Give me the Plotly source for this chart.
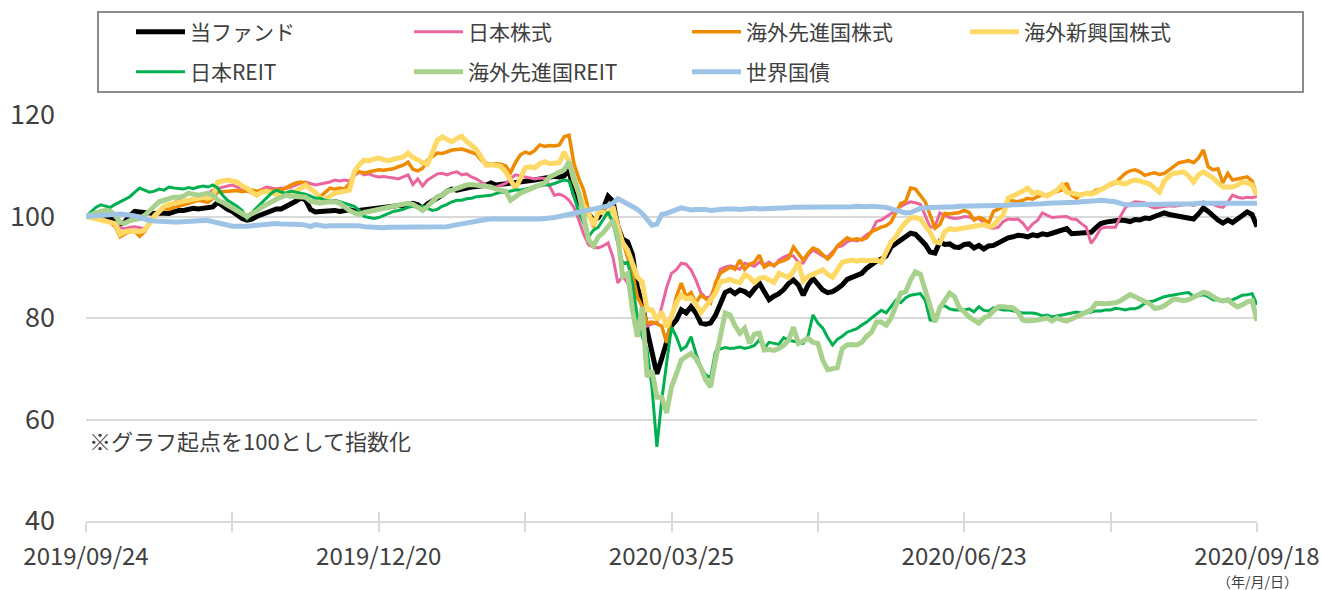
import pandas as pd
import plotly.graph_objects as go

# ---------------- data ----------------
jp_holidays = ["2019-10-14", "2019-10-22", "2019-11-04", "2019-12-31", "2020-01-01",
               "2020-01-02", "2020-01-03", "2020-01-13", "2020-02-11", "2020-02-24",
               "2020-03-20", "2020-04-29", "2020-05-04", "2020-05-05", "2020-05-06",
               "2020-07-23", "2020-07-24", "2020-08-10"]
dates = [d.strftime("%Y/%m/%d") for d in
         pd.bdate_range("2019-09-24", "2020-09-18", freq="C", holidays=jp_holidays)]

series_names = ["当ファンド", "日本株式", "海外先進国株式", "海外新興国株式",
                "日本REIT", "海外先進国REIT", "世界国債"]

fund = [
    100.0, 100.1, 99.9, 100.0, 99.8, 99.5, 99.2, 98.5, 99.0, 100.2,
    101.0, 100.9, 100.8, 100.5, 100.6, 100.7, 100.6, 100.6, 100.9, 101.2,
    101.2, 101.4, 101.6, 101.5, 101.7, 101.8, 101.9, 102.8, 102.0, 101.4,
    101.0, 100.2, 99.6, 99.3, 99.5, 100.0, 100.4, 100.9, 101.2, 101.5,
    101.5, 102.0, 102.3, 103.0, 103.6, 103.3, 101.4, 100.9, 101.0, 101.1,
    101.0, 101.2, 101.0, 101.2, 101.3, 101.1, 101.2, 101.4, 101.5, 101.4,
    101.6, 101.7, 101.9, 102.0, 102.2, 102.0, 102.4, 102.6, 102.3, 101.6,
    102.5, 103.0, 103.6, 104.2, 105.0, 105.4, 105.2, 105.5, 105.6, 105.8,
    105.8, 106.0, 106.2, 106.6, 106.2, 106.3, 106.4, 106.5, 106.6, 106.8,
    106.8, 107.0, 107.2, 107.4, 107.6, 107.8, 107.9, 107.8, 108.0, 109.2,
    104.5, 102.6, 102.4, 100.5, 99.3, 99.8, 101.5, 104.0, 103.0, 98.0,
    95.5, 95.0, 92.5, 86.0, 83.0, 77.6, 73.5, 69.0, 72.0, 75.5,
    78.5, 79.6, 81.6, 81.0, 82.2, 81.0, 79.0, 78.8, 79.0, 80.5,
    83.0, 85.0, 85.5, 84.8, 85.5, 85.2, 84.5, 85.8, 86.9, 85.2,
    83.6, 84.3, 84.8, 85.6, 86.8, 87.5, 86.5, 84.5, 86.5, 87.8,
    86.8, 85.5, 85.0, 85.2, 85.8, 86.5, 87.6, 88.0, 88.5, 88.8,
    89.8, 90.6, 91.2, 91.6, 92.2, 94.0, 94.7, 95.2, 96.2, 96.7,
    96.5, 95.5, 94.5, 93.0, 92.8, 95.0, 94.5, 94.6, 94.0, 93.9,
    94.5, 94.6, 93.8, 94.3, 93.6, 94.2, 94.3, 94.8, 95.3, 95.8,
    96.0, 96.3, 96.2, 96.0, 96.4, 96.2, 96.6, 96.4, 96.7, 97.0,
    97.1, 97.6, 96.6, 96.7, 96.7, 96.8, 96.9, 97.8, 98.6, 98.9,
    99.0, 99.3, 99.3, 99.2, 99.0, 99.4, 99.3, 99.7, 99.6, 100.0,
    100.4, 100.7, 100.4, 100.2, 100.0, 99.8, 99.7, 99.5, 100.5, 101.7,
    101.0, 100.0, 99.3, 98.7, 99.3, 98.8, 99.5, 100.3, 100.9, 100.4,
    98.0]

jp_equity = [
    100.0, 99.8, 99.6, 99.5, 99.2, 99.0, 98.6, 97.8, 97.6, 97.9,
    98.0, 97.8, 97.6, 98.8, 100.4, 101.0, 101.8, 102.3, 102.8, 103.2,
    103.0, 103.2, 103.3, 103.5, 104.0, 104.6, 105.2, 105.5, 105.8, 106.0,
    106.2, 105.8, 105.4, 105.0, 104.6, 104.9, 105.4, 105.8, 105.6, 105.4,
    105.6, 105.5, 105.8, 106.2, 106.6, 106.8, 106.5, 106.2, 106.4, 106.6,
    106.8, 107.2, 107.0, 107.2, 107.0, 108.0, 108.8, 108.2, 108.4, 108.0,
    107.8, 107.9, 107.8, 107.6, 107.4, 107.8, 108.2, 106.3, 107.4, 106.0,
    107.2, 107.8, 108.4, 108.5, 108.2, 108.6, 108.8, 108.2, 108.4, 107.8,
    107.4, 106.8, 106.2, 105.6, 105.8, 106.2, 106.5, 107.4, 108.2, 108.0,
    107.8, 107.6, 107.4, 107.6, 107.5, 106.0, 104.2, 104.4, 104.0, 103.2,
    101.8, 99.3, 96.5, 94.4, 94.0, 93.8, 94.2, 94.8, 92.0, 86.9,
    88.2, 86.9, 84.0, 80.2, 78.2, 78.4, 78.8, 79.0, 82.2, 86.0,
    88.8, 89.5, 90.8, 90.6, 89.5, 87.5, 85.0, 84.0, 84.2, 86.5,
    89.6, 90.0, 90.3, 90.0, 89.6, 90.8, 90.5, 90.2, 91.0, 90.4,
    91.0, 90.2, 91.4, 92.0, 92.4, 92.2, 91.0, 90.8, 92.4, 93.4,
    92.8, 92.2, 92.0, 93.0, 94.0, 94.2, 95.0, 95.4, 95.2, 95.6,
    96.4, 97.0, 99.0, 99.3, 100.0, 100.6, 101.2, 102.0, 102.5, 102.9,
    102.7, 102.4, 100.2, 97.9, 98.0, 100.7, 100.2, 99.8, 99.6, 99.7,
    100.0, 99.9, 99.5, 99.6, 98.8, 97.8, 97.7, 97.9, 99.0, 99.5,
    99.4, 99.5, 98.7, 97.4, 98.5, 99.2, 100.7, 100.2, 99.8, 99.9,
    99.9, 100.0, 99.5, 99.4, 98.6, 97.9, 94.7, 96.0, 97.7, 97.9,
    97.9, 97.9, 100.0, 101.7, 102.5, 102.9, 102.8, 102.7, 102.0, 101.7,
    101.8, 102.0, 102.1, 102.0, 102.2, 102.3, 102.4, 102.2, 102.5, 102.9,
    102.6, 102.4, 102.0, 101.8, 102.8, 104.2, 103.8, 103.6, 103.8, 103.7,
    104.0]

dev_equity = [
    100.0, 99.8, 99.6, 99.7, 99.2, 98.8, 98.0, 96.0, 96.6, 97.0,
    97.1, 96.1, 97.0, 98.5, 100.4, 101.0, 101.6, 101.4, 101.8, 102.0,
    102.3, 102.6, 102.8, 103.2, 103.0, 102.8, 103.6, 104.8, 104.9, 105.0,
    105.0, 105.1, 104.9, 105.0, 105.2, 105.0, 105.1, 105.2, 105.0, 105.3,
    105.2, 105.8, 106.2, 106.6, 106.8, 106.6, 105.6, 104.6, 103.9, 104.8,
    105.6, 105.4, 105.6, 105.4, 106.5, 108.5, 108.8, 108.6, 108.8, 109.0,
    109.2, 109.1, 109.3, 109.4, 109.8, 110.1, 110.7, 109.3, 109.0, 109.5,
    111.1, 111.8, 112.5, 112.4, 112.8, 113.1, 113.2, 113.3, 113.0, 112.6,
    112.3, 111.1, 110.5, 110.3, 110.4, 110.3, 110.0, 108.6, 110.6, 112.1,
    112.7, 112.4, 113.0, 114.1, 113.8, 114.0, 113.9, 114.1, 115.7, 116.0,
    110.5, 107.5, 105.2, 101.3, 97.9, 100.4, 100.9, 102.3, 101.5, 97.4,
    95.0, 92.0, 88.8, 84.2, 82.2, 79.0, 79.2, 78.9, 78.4, 75.1,
    80.2, 84.2, 86.9, 84.2, 85.0, 83.0, 84.5, 83.8, 83.0, 86.9,
    88.8, 89.4, 90.0, 89.6, 91.4, 89.6, 90.6, 91.0, 92.4, 90.0,
    90.6, 90.4, 91.0, 91.3, 91.8, 94.0, 92.8, 91.4, 92.8, 93.8,
    93.4, 92.6, 91.6, 92.6, 94.2, 95.0, 95.8, 95.4, 95.6, 95.4,
    95.8, 97.0, 97.5, 97.9, 98.2, 98.9, 100.8, 102.6, 103.0, 105.6,
    105.4, 104.0, 102.9, 100.3, 97.7, 98.4, 100.6, 100.5, 100.6, 100.8,
    101.2, 100.8, 99.3, 99.8, 99.5, 98.7, 101.0, 101.4, 101.9, 103.2,
    103.0, 102.9, 103.2, 103.6, 103.4, 103.9, 104.2, 104.3, 104.6, 104.9,
    105.2, 106.6, 104.2, 103.6, 104.4, 104.6, 104.6, 105.2, 105.4, 105.8,
    106.2, 106.6, 107.6, 108.5, 109.0, 109.2, 108.8, 108.1, 108.4, 108.6,
    108.3, 108.5, 109.2, 109.8, 110.6, 110.8, 111.0, 110.6, 111.5, 113.1,
    109.8, 109.2, 109.4, 106.6, 108.5, 107.2, 107.4, 107.6, 107.8, 107.0,
    104.2]

em_equity = [
    100.0, 99.8, 99.5, 99.3, 99.2, 99.0, 98.6, 96.5, 97.0, 97.2,
    97.2, 97.0, 97.3, 98.8, 100.0, 101.0, 102.0, 102.4, 102.6, 102.8,
    103.0, 103.2, 103.4, 103.6, 103.8, 103.6, 103.9, 106.8, 107.0, 107.2,
    107.0, 106.8, 106.0, 105.6, 104.8, 104.2, 104.8, 105.0, 104.6, 104.4,
    104.2, 104.6, 104.8, 105.0, 105.6, 106.2, 105.4, 104.8, 103.6, 103.4,
    104.0, 104.6, 104.8, 105.0, 105.2, 108.8, 110.2, 111.1, 111.0, 111.3,
    111.5, 111.2, 111.0, 111.3, 111.5, 111.7, 112.5, 111.6, 111.2, 110.6,
    110.3, 113.0, 115.0, 115.7, 115.2, 114.7, 115.4, 115.8, 114.8, 114.0,
    113.2, 111.7, 110.1, 110.2, 110.0, 109.9, 108.8, 107.2, 105.6, 107.4,
    109.6, 109.8, 109.6, 110.4, 110.8, 110.4, 110.6, 110.6, 112.7, 110.8,
    107.2, 104.6, 102.2, 100.6, 98.2, 101.0, 100.8, 100.2, 102.0, 98.0,
    94.8, 93.4, 90.8, 88.1, 87.1, 81.6, 81.6, 79.6, 81.2, 78.2,
    80.4, 83.0, 84.5, 83.8, 84.0, 82.8, 81.0, 82.3, 83.5, 84.9,
    87.1, 87.4, 87.6, 87.2, 87.0, 88.5, 88.0, 87.0, 87.8, 88.0,
    87.4, 87.0, 88.8, 88.4, 88.0, 89.2, 91.0, 87.3, 88.2, 88.6,
    89.0, 89.5, 88.6, 88.0, 89.5, 91.0, 91.2, 91.4, 91.2, 91.4,
    91.3, 91.4, 91.4, 91.0, 92.8, 95.0, 96.0, 97.7, 98.8, 99.7,
    99.8, 99.5, 98.2, 96.9, 95.0, 94.8, 97.0, 97.6, 97.4, 97.6,
    97.8, 98.0, 98.2, 98.3, 98.4, 98.0, 98.2, 99.4, 100.3, 103.6,
    104.0, 104.6, 105.0, 105.6, 104.6, 104.8, 104.4, 104.0, 104.6, 105.2,
    106.2, 104.8, 104.6, 104.3, 104.2, 104.6, 104.4, 104.8, 105.2, 105.8,
    106.4, 106.8, 106.6, 106.4, 106.9, 107.2, 107.0, 106.6, 106.4, 105.6,
    104.8, 107.0, 108.0, 108.5, 108.6, 108.8, 108.0, 106.8, 108.2, 108.8,
    108.2, 107.6, 106.6, 105.8, 105.8, 105.8, 106.2, 106.8, 106.6, 106.2,
    104.2]

jp_reit = [
    100.0, 101.0, 101.8, 102.3, 102.0, 101.8, 102.4, 102.9, 103.4, 103.9,
    104.8, 105.6, 105.2, 104.8, 105.0, 105.4, 105.2, 105.8, 105.6, 105.5,
    105.4, 105.7, 105.5, 105.8, 106.0, 105.8, 106.2, 105.6, 104.2, 103.2,
    102.6, 102.0, 101.2, 99.6, 100.8, 101.8, 102.6, 103.6, 104.6, 105.2,
    104.8, 104.6, 105.0, 104.8, 104.6, 104.4, 104.0, 103.6, 103.6, 103.2,
    103.0, 103.2, 102.9, 102.6, 102.3, 102.0, 101.2, 100.0, 99.8, 99.6,
    99.8, 100.2, 100.6, 101.0, 101.2, 101.4, 101.8, 102.0, 101.8, 102.0,
    101.6, 101.2, 101.4, 102.0, 102.4, 102.9, 103.2, 103.2, 103.5, 103.6,
    103.9, 104.0, 104.0, 104.2, 104.5, 104.8, 104.8, 105.0, 105.2, 105.2,
    105.4, 105.6, 106.0, 106.0, 106.2, 106.2, 106.5, 106.8, 107.2, 107.0,
    103.9, 100.9, 98.7, 96.0, 97.3, 97.9, 99.4, 100.9, 98.7, 94.8,
    90.8, 91.0, 86.9, 80.2, 76.3, 73.7, 66.4, 54.6, 63.8, 71.1,
    78.2, 76.3, 73.7, 74.4, 76.3, 73.0, 70.3, 68.8, 68.2, 73.3,
    73.9, 74.2, 74.0, 74.1, 74.3, 74.0, 74.2, 74.6, 75.7, 74.0,
    75.2, 75.0, 74.8, 76.1, 75.6, 75.4, 75.2, 75.0, 76.5, 80.6,
    79.0, 78.0, 76.2, 74.7, 75.8, 76.4, 77.2, 77.6, 77.9, 78.6,
    79.2, 80.0, 80.8, 81.5, 81.0, 82.2, 83.5, 83.0, 84.0, 84.5,
    84.6, 84.8, 83.5, 79.6, 79.4, 82.2, 82.4, 81.8, 81.6, 81.6,
    81.6, 81.8, 81.2, 82.2, 81.5, 81.4, 82.0, 81.8, 81.6, 81.6,
    81.4, 81.2, 81.0, 81.0, 81.0, 80.8, 80.4, 80.6, 80.2, 80.4,
    80.6, 80.8, 81.0, 81.2, 81.0, 81.0, 81.2, 81.4, 81.4, 81.6,
    81.6, 81.9, 81.8, 81.6, 81.8, 81.8, 82.2, 82.9, 83.2, 83.4,
    83.8, 84.2, 84.4, 84.6, 84.8, 84.9, 85.0, 84.2, 84.4, 84.6,
    84.2, 83.6, 83.5, 83.2, 83.4, 83.6, 84.0, 84.5, 84.6, 84.8,
    82.6]

dev_reit = [
    100.0, 100.4, 100.8, 101.0, 101.2, 101.0, 100.2, 98.8, 98.7, 99.2,
    99.4, 99.6, 100.2, 101.2, 102.0, 102.9, 103.2, 103.6, 103.8, 103.8,
    104.0, 104.6, 104.4, 104.2, 104.4, 104.6, 104.2, 103.2, 102.8, 102.2,
    101.6, 101.2, 100.6, 100.0, 100.6, 101.0, 101.8, 102.4, 102.9, 103.4,
    103.8, 104.2, 104.0, 103.9, 104.0, 103.8, 103.0, 102.8, 102.6, 102.8,
    102.8, 102.9, 102.6, 101.8, 101.2, 100.7, 100.4, 100.8, 101.0, 101.4,
    101.6, 101.8, 102.0, 102.0, 102.3, 102.5, 102.6, 102.4, 101.8, 101.2,
    102.0, 103.0, 103.9, 104.2, 105.0, 105.2, 105.6, 106.0, 106.2, 106.3,
    106.2, 106.2, 106.0, 105.8, 105.4, 105.2, 105.0, 103.2, 104.0, 104.6,
    105.0, 105.4, 106.0, 106.2, 106.6, 107.8, 108.2, 108.8, 109.2, 110.8,
    107.8, 104.6, 100.0, 95.4, 94.2, 96.0, 96.8, 98.0, 99.2, 96.0,
    88.2, 88.8, 81.6, 76.3, 82.2, 68.4, 69.6, 64.4, 64.4, 61.3,
    66.4, 69.0, 71.7, 72.4, 73.0, 72.0, 70.3, 67.8, 66.4, 71.7,
    76.0, 81.0, 80.6, 78.5, 77.0, 78.0, 75.0, 76.8, 77.0, 73.7,
    73.8, 73.6, 74.0, 74.6, 75.6, 78.2, 75.0, 75.6, 76.0, 75.2,
    75.0, 71.7, 69.8, 70.0, 70.2, 74.0, 74.7, 74.8, 74.7, 75.2,
    76.4, 77.2, 79.2, 79.2, 78.6, 80.0, 82.8, 84.9, 85.2, 87.5,
    89.1, 88.6, 85.5, 82.2, 79.2, 82.0, 83.5, 84.9, 84.2, 82.0,
    81.2, 80.2, 79.6, 79.0, 80.0, 80.4, 81.4, 82.2, 82.2, 82.2,
    82.0, 81.2, 79.6, 79.4, 79.4, 79.6, 79.8, 80.0, 79.4, 80.0,
    79.6, 79.4, 79.8, 80.2, 80.8, 81.0, 81.6, 82.9, 82.8, 82.8,
    82.9, 83.0, 83.4, 83.9, 84.6, 84.2, 83.8, 83.4, 82.8, 81.9,
    82.0, 82.4, 83.0, 83.8, 83.6, 83.4, 83.6, 84.0, 84.6, 85.1,
    84.8, 84.2, 83.6, 83.4, 83.6, 82.8, 82.2, 82.6, 83.2, 83.4,
    79.4]

world_bond = [
    100.0, 100.1, 100.2, 100.3, 100.4, 100.4, 100.5, 100.5, 100.4, 100.3,
    100.1, 99.8, 99.4, 99.2, 99.1, 99.0, 98.9, 99.0, 98.9, 98.9,
    99.0, 98.9, 99.0, 99.1, 99.2, 99.2, 99.0, 98.7, 98.4, 98.2,
    98.1, 98.1, 98.0, 98.1, 98.2, 98.3, 98.4, 98.5, 98.5, 98.6,
    98.5, 98.5, 98.6, 98.5, 98.4, 98.3, 98.0, 98.4, 98.2, 98.1,
    98.2, 98.2, 98.3, 98.2, 98.2, 98.1, 98.2, 98.0, 97.9, 97.9,
    97.8, 97.8, 97.9, 97.9, 98.0, 98.0, 98.1, 98.0, 97.9, 98.0,
    98.0, 98.1, 98.0, 98.1, 98.0, 98.2, 98.4, 98.6, 98.8, 99.0,
    99.1, 99.2, 99.4, 99.5, 99.5, 99.5, 99.4, 99.3, 99.3, 99.4,
    99.4, 99.5, 99.5, 99.5, 99.6, 99.6, 99.8, 100.0, 100.2, 100.4,
    100.6, 100.8, 101.0, 101.2, 101.3, 101.5, 101.7, 102.1, 102.6, 103.5,
    103.0, 102.5, 101.9, 101.4, 100.6, 99.5, 98.3, 98.5, 100.4, 100.6,
    101.0, 101.4, 101.7, 101.5, 101.3, 101.4, 101.5, 101.4, 101.2, 101.2,
    101.4, 101.5, 101.6, 101.5, 101.4, 101.5, 101.5, 101.6, 101.5, 101.5,
    101.6, 101.6, 101.7, 101.6, 101.7, 101.8, 101.8, 101.7, 101.7, 101.8,
    101.8, 101.9, 101.8, 101.8, 101.9, 101.8, 101.8, 101.9, 102.0, 101.9,
    101.9, 102.0, 102.0, 102.0, 101.8, 101.5, 101.3, 101.0, 100.7, 100.8,
    101.2, 101.6, 101.7, 101.7, 101.8, 101.8, 101.8, 101.9, 101.9, 102.0,
    102.0, 102.0, 102.1, 102.1, 102.1, 102.1, 102.1, 102.2, 102.2, 102.2,
    102.3, 102.3, 102.3, 102.4, 102.4, 102.4, 102.5, 102.6, 102.6, 102.7,
    102.7, 102.8, 102.8, 102.8, 102.9, 102.9, 103.0, 103.1, 103.2, 103.1,
    103.1, 102.9, 102.6, 102.3, 102.3, 102.3, 102.3, 102.4, 102.3, 102.4,
    102.4, 102.4, 102.3, 102.4, 102.3, 102.4, 102.5, 102.5, 102.6, 102.6,
    102.6, 102.6, 102.5, 102.6, 102.6, 102.6, 102.6, 102.7, 102.6, 102.6,
    102.6]

y_ticks = [40, 60, 80, 100, 120]
x_label_step = 60
x_tick_step = 30

# ---------------- styling ----------------
series_values = [fund, jp_equity, dev_equity, em_equity, jp_reit, dev_reit, world_bond]
colors = ["#000000", "#EA659E", "#EE8B00", "#FFD966", "#00B050", "#A9D18E", "#9DC3E6"]
widths = [5, 3, 3.5, 5, 3, 5, 5]
legend_ids = ["legend", "legend", "legend", "legend", "legend2", "legend2", "legend2"]

FONT = "Noto Sans CJK JP, Noto Sans, sans-serif"
TXT = "#404040"
GRID = "#D9D9D9"

W, H = 1321, 590
ML, MR, MT, MB = 86, 64, 115, 69
PW, PH = W - ML - MR, H - MT - MB


def px_x(px):
    return (px - ML) / PW


def px_y(py):
    return (H - MB - py) / PH


def cx(px):
    return px / W


def cy(py):
    return 1 - py / H


fig = go.Figure()
for name, vals, col, w, lg in zip(series_names, series_values, colors, widths, legend_ids):
    fig.add_trace(go.Scatter(x=dates, y=vals, mode="lines", name=name,
                             line=dict(color=col, width=w), legend=lg))

# invisible helper trace for inward half of the cross tick marks
fig.add_trace(go.Scatter(x=dates, y=[None] * len(dates), xaxis="x2", mode="lines",
                         showlegend=False, hoverinfo="skip"))

tickvals = [dates[i] for i in range(0, len(dates), x_tick_step)]
ticktext = [dates[i] if i % x_label_step == 0 else "" for i in range(0, len(dates), x_tick_step)]

legend_common = dict(orientation="h", xref="container", yref="container",
                     xanchor="left", yanchor="middle",
                     entrywidth=214, entrywidthmode="pixels", itemwidth=49,
                     font=dict(size=21, color=TXT, family=FONT),
                     bgcolor="rgba(0,0,0,0)", borderwidth=0)

fig.update_layout(
    width=W, height=H,
    margin=dict(l=ML, r=MR, t=MT, b=MB, pad=0, autoexpand=False),
    paper_bgcolor="white", plot_bgcolor="white",
    font=dict(family=FONT, color=TXT),
    xaxis=dict(type="category", range=[0, len(dates) - 1], tickvals=tickvals,
               ticktext=ticktext, tickangle=0, showgrid=False, zeroline=False,
               showline=True, linecolor=GRID, linewidth=1.5,
               ticks="outside", ticklen=9, tickwidth=1.5, tickcolor=GRID,
               ticklabelstandoff=4,
               tickfont=dict(size=24, color=TXT, family=FONT), automargin=False),
    xaxis2=dict(type="category", overlaying="x", matches="x", anchor="y", side="bottom",
                tickvals=tickvals, ticks="inside", ticklen=9, tickwidth=1.5,
                tickcolor=GRID, showticklabels=False, showgrid=False,
                showline=False, zeroline=False),
    yaxis=dict(range=[40, 120], tickvals=y_ticks, showgrid=True, gridcolor=GRID,
               gridwidth=1.5, zeroline=False, showline=False, ticks="",
               tickfont=dict(size=27, color=TXT, family=FONT),
               ticklabelstandoff=30, automargin=False),
    legend=dict(x=cx(131), y=cy(32), **legend_common),
    legend2=dict(x=cx(131), y=cy(72), **legend_common),
    showlegend=True,
    shapes=[dict(type="rect", xref="paper", yref="paper",
                 x0=px_x(98), x1=px_x(1303), y0=px_y(92), y1=px_y(12),
                 line=dict(color="#8C8C8C", width=2), fillcolor="rgba(0,0,0,0)",
                 layer="above")],
    annotations=[
        dict(text="※グラフ起点を100として指数化", xref="paper", yref="paper",
             x=px_x(87), y=px_y(440), xanchor="left", yanchor="middle", showarrow=False,
             font=dict(size=22, color=TXT, family=FONT)),
        dict(text="（年/月/日）", xref="paper", yref="paper",
             x=px_x(1257), y=px_y(581), xanchor="center", yanchor="middle", showarrow=False,
             font=dict(size=14, color=TXT, family=FONT)),
    ],
)

fig.write_html("out.html", include_plotlyjs=True, full_html=True,
               config={"displayModeBar": False},
               post_script="document.body.style.margin='0';document.body.style.overflow='hidden';")
